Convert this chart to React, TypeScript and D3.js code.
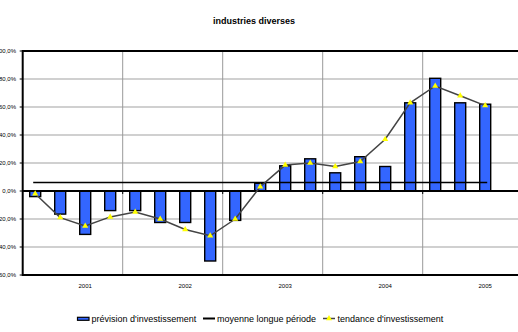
import React from "react";
import * as d3 from "d3";

const years = ["2001", "2002", "2003", "2004", "2005"];
const quarters = d3.range(20).map((i) => `Q${i}`);
const prevision = [-4, -16.5, -31, -14, -14, -22.5, -22.5, -50, -21, 5.5, 18, 23, 13, 24.5, 17.5, 63, 80.5, 63, 62];
const tendance = [-2, -19, -25, -18.5, -15, -20, -27.5, -32, -20, 3, 18.5, 20, 17.5, 21, 37, 63, 75, 68, 61];
const moyenne = 6;
const yTicks = [100, 80, 60, 40, 20, 0, -20, -40, -60];

const W = 518;
const H = 332;
const left = 22.7;
const right = 522.7;
const top = 51;
const bottom = 275;

export default function App() {
  const x = d3.scaleBand<string>().domain(quarters).range([left, right]).paddingInner(0.56).paddingOuter(0.28);
  const xc = (i: number) => (x(quarters[i]) as number) + x.bandwidth() / 2;
  const y = d3.scaleLinear().domain([-60, 100]).range([bottom, top]);
  const yearW = (right - left) / years.length;
  const trendLine = d3.line<number>().x((_, i) => xc(i)).y((d) => y(d));
  const tri = d3.symbol().type(d3.symbolTriangle).size(16)();
  const font = "Liberation Sans, Arial, sans-serif";
  return (
    <svg width={W} height={H} style={{ position: "absolute", left: 0, top: 0, fontFamily: font }}>
      <rect width={W} height={H} fill="#fff" />
      <text x={254} y={24} textAnchor="middle" fontSize={9} fontWeight="bold">industries diverses</text>
      {yTicks.map((t) => (
        <g key={t}>
          {t !== 100 && t !== -60 && t !== 0 && (
            <line x1={left} x2={W} y1={y(t)} y2={y(t)} stroke="#c0c0c0" strokeWidth={1.3} />
          )}
          <line x1={left - 3} x2={left} y1={y(t)} y2={y(t)} stroke="#000" strokeWidth={1} />
          <text x={16} y={y(t) + 2} textAnchor="end" fontSize={6}>{d3.format(".1f")(t).replace(".", ",") + "%"}</text>
        </g>
      ))}
      {years.slice(1).map((yr, i) => (
        <line key={yr} x1={left + (i + 1) * yearW} x2={left + (i + 1) * yearW} y1={top} y2={bottom} stroke="#999" strokeWidth={1} />
      ))}
      <line x1={left} x2={W} y1={top} y2={top} stroke="#000" strokeWidth={2} />
      <line x1={left} x2={W} y1={bottom} y2={bottom} stroke="#000" strokeWidth={2} />
      {prevision.map((v, i) => (
        <rect
          key={i}
          x={x(quarters[i])}
          y={Math.min(y(v), y(0))}
          width={x.bandwidth()}
          height={Math.abs(y(v) - y(0))}
          fill="#3366FF"
          stroke="#000"
          strokeWidth={1.4}
        />
      ))}
      <line x1={left} x2={W} y1={y(0)} y2={y(0)} stroke="#000" strokeWidth={2} />
      {years.slice(1).map((yr, i) => (
        <line key={yr} x1={left + (i + 1) * yearW} x2={left + (i + 1) * yearW} y1={y(0)} y2={y(0) + 3} stroke="#000" strokeWidth={1} />
      ))}
      <line x1={xc(0) - 2} x2={xc(prevision.length - 1) + 2} y1={y(moyenne)} y2={y(moyenne)} stroke="#000" strokeWidth={1.5} />
      <path d={trendLine(tendance) as string} fill="none" stroke="#444" strokeWidth={1.5} />
      {tendance.map((v, i) => (
        <path key={i} d={tri as string} transform={`translate(${xc(i)},${y(v)})`} fill="#ffff00" />
      ))}
      <line x1={left} x2={left} y1={top - 1} y2={bottom + 1} stroke="#000" strokeWidth={2} />
      {years.map((yr, i) => (
        <text key={yr} x={xc(i * 4 + 2)} y={288} textAnchor="middle" fontSize={6}>{yr}</text>
      ))}
      <rect x={77.5} y={317.3} width={11.5} height={3} fill="#3366FF" stroke="#000" strokeWidth={1.2} />
      <text x={91.5} y={322} fontSize={9}>prévision d'investissement</text>
      <line x1={203} x2={215} y1={318.5} y2={318.5} stroke="#000" strokeWidth={2} />
      <text x={217} y={322} fontSize={9}>moyenne longue période</text>
      <line x1={323} x2={335} y1={318.5} y2={318.5} stroke="#444" strokeWidth={1.5} />
      <path d={tri as string} transform="translate(329,318.5)" fill="#ffff00" />
      <text x={337.5} y={322} fontSize={9}>tendance d'investissement</text>
    </svg>
  );
}
